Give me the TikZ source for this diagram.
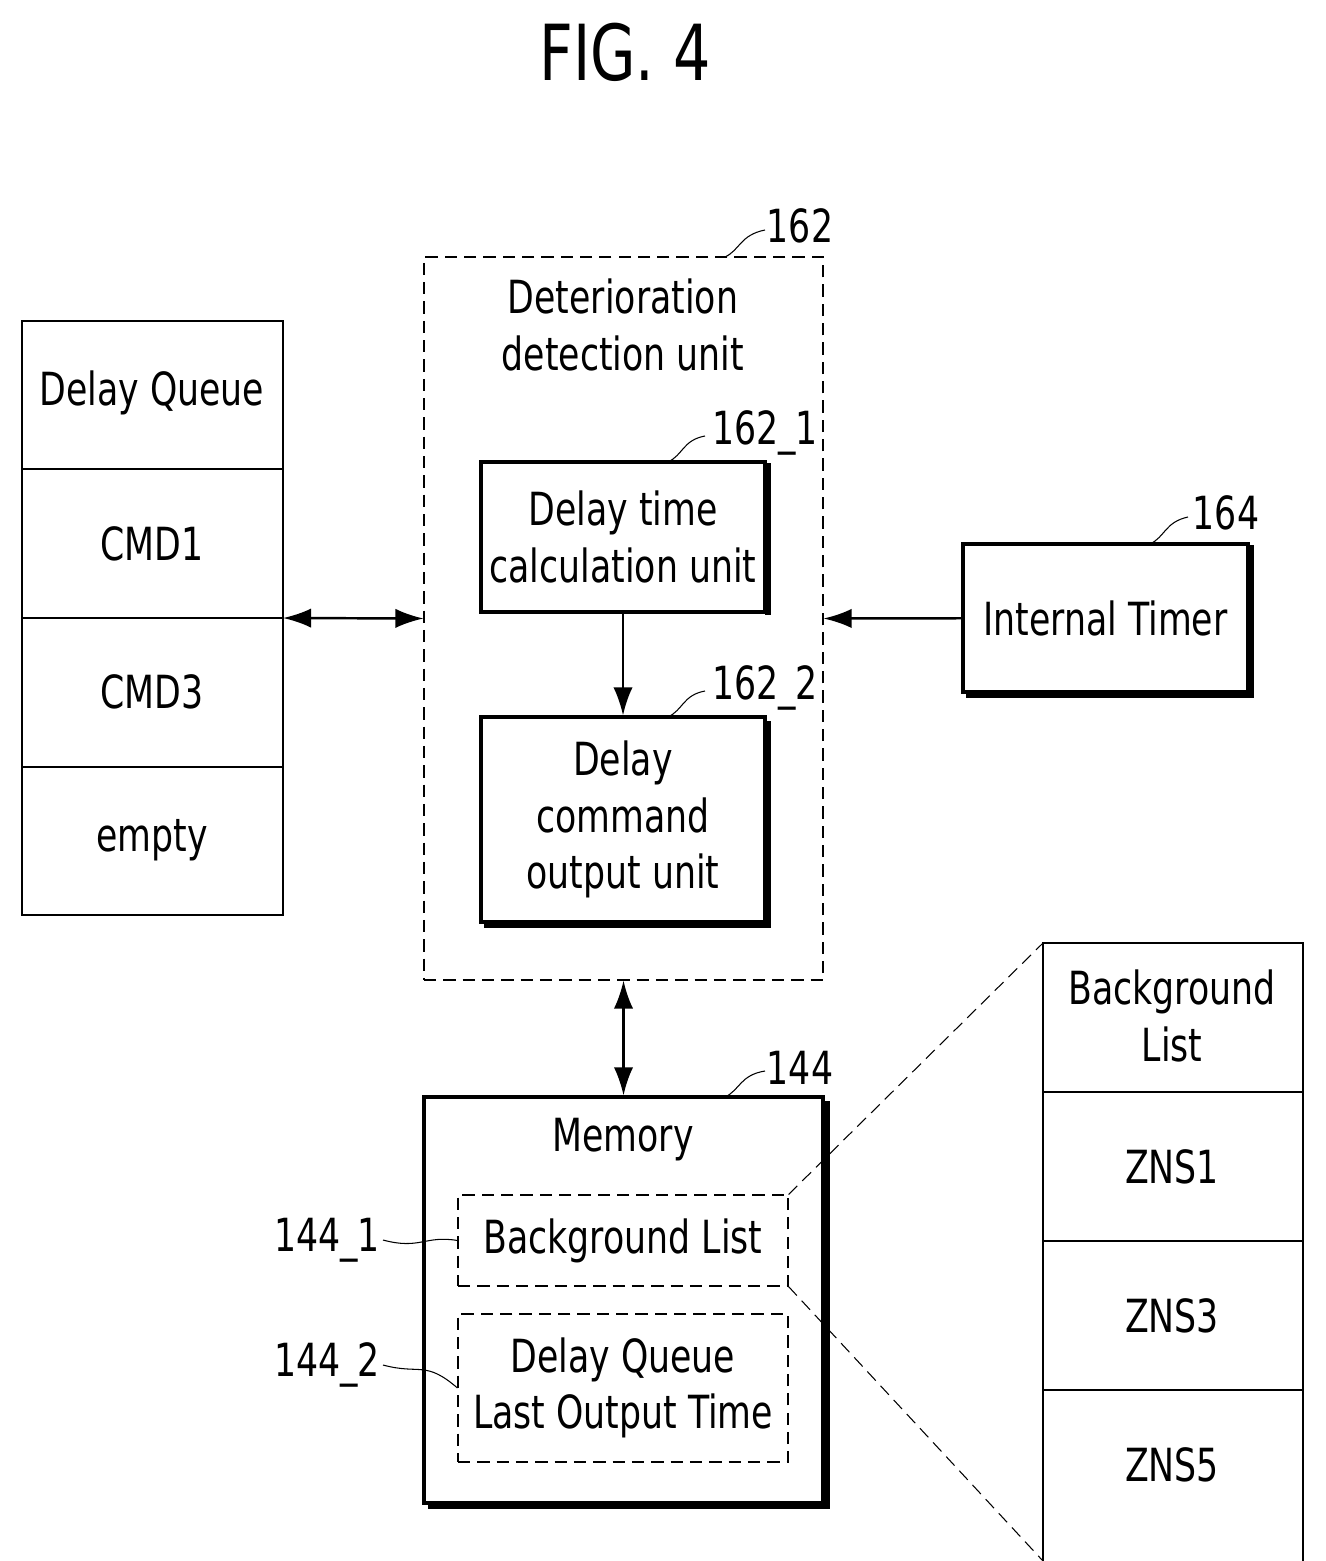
\documentclass[tikz,border=0pt]{standalone}
\usepackage{fontspec}
\setmainfont{DejaVu Sans}[FakeStretch=0.76]
\usetikzlibrary{arrows.meta}
\begin{document}
\begin{tikzpicture}[x=0.02cm,y=-0.02cm,
  txt/.style={font=\fontsize{26}{32}\selectfont,align=center},
  lbl/.style={font=\fontsize{26}{32}\selectfont},
  box/.style={draw,line width=1.6pt},
  sbox/.style={draw,line width=1.8pt},
  dbox/.style={draw,dash pattern=on 7pt off 4pt,line width=0.6pt},
  arr/.style={line width=1.4pt,-{Latex[length=16pt,width=11pt]}},
  darr/.style={line width=1.4pt,{Latex[length=16pt,width=11pt]}-{Latex[length=16pt,width=11pt]}},
  lead/.style={line width=0.6pt}]
\useasboundingbox (0,0) rectangle (1325,1561);
\node[font=\fontsize{44}{50}\selectfont] (title) at (625,52) {FIG. 4};
% delay queue
\draw[box] (22,321) rectangle (283,915);
\foreach \yy in {469,618,767} \draw[line width=1.4pt] (22,\yy) -- (283,\yy);
\node[txt] (dq) at (152,393) {Delay Queue};
\node[txt] (c1) at (152,544) {CMD1};
\node[txt] (c3) at (152,692) {CMD3};
\node[txt] (em) at (152,840) {empty};
\coordinate (dqr) at (283,618);
% 162
\node[dbox,minimum width=399*0.02cm,minimum height=723*0.02cm] (u162) at (623.5,618.5) {};
\node[txt] at (623,325) {Deterioration\\detection unit};
\node[lbl] (l162) at (800,226) {162};
\draw[lead] (725,257) .. controls (740,250) and (740,235) .. (765,230);
% 162_1
\draw[line width=3pt] (484,466) -- (768,466) -- (768,615);
\node[sbox,fill=white,minimum width=284*0.02cm,minimum height=150*0.02cm,txt,inner sep=0] (b1) at (623,537) {Delay time\\calculation unit};
\node[lbl] (l1) at (765,433) {162\_1};
\draw[lead] (668,462) .. controls (683,455) and (683,440) .. (705,436);
% 162_2
\draw[line width=3pt] (768,721) -- (768,925) -- (484,925);
\node[sbox,fill=white,minimum width=284*0.02cm,minimum height=205*0.02cm,txt,inner sep=0] (b2) at (623,819.5) {Delay\\command\\output unit};
\node[lbl] (l2) at (765,688) {162\_2};
\draw[lead] (668,717) .. controls (683,710) and (683,695) .. (705,691);
\draw[arr] (b1) -- (b2);
% timer
\draw[line width=3pt] (966,548) -- (1251,548) -- (1251,695) -- (966,695);
\node[sbox,fill=white,minimum width=285*0.02cm,minimum height=148*0.02cm,txt,inner sep=0] (tm) at (1105.5,618) {Internal Timer};
\node[lbl] (l164) at (1226,513) {164};
\draw[lead] (1150,544) .. controls (1165,537) and (1165,522) .. (1188,517);
\draw[arr] (tm) -- (u162.east);
\draw[darr] (dqr) -- (u162.west);
% memory
\draw[line width=3pt] (827,1101) -- (827,1506) -- (428,1506);
\node[sbox,fill=white,minimum width=399*0.02cm,minimum height=406*0.02cm] (mem) at (623.5,1300) {};
\node[txt] at (623,1140) {Memory};
\node[lbl] (l144) at (800,1068) {144};
\draw[lead] (725,1097) .. controls (740,1090) and (740,1075) .. (765,1071);
\draw[darr] (u162.south) -- (mem.north);
\node[dbox,minimum width=330*0.02cm,minimum height=91*0.02cm,txt,inner sep=0] (bl) at (623,1240.5) {Background List};
\node[dbox,minimum width=330*0.02cm,minimum height=148*0.02cm,txt,inner sep=0] (lt) at (623,1388) {Delay Queue\\Last Output Time};
\node[lbl] (l441) at (327,1240) {144\_1};
\node[lbl] (l442) at (327,1365) {144\_2};
\draw[lead] (383,1240) .. controls (420,1250) and (425,1235) .. (bl.west);
\draw[lead] (383,1365) .. controls (420,1375) and (425,1360) .. (lt.west);
% background list
\draw[box] (1043,943) rectangle (1303,1563);
\foreach \yy in {1092,1241,1390} \draw[line width=1.4pt] (1043,\yy) -- (1303,\yy);
\node[txt] (bh) at (1172,1016) {Background\\List};
\node[txt] (z1) at (1172,1167) {ZNS1};
\node[txt] (z3) at (1172,1316) {ZNS3};
\node[txt] (z5) at (1172,1465) {ZNS5};
\draw[dbox] (bl.north east) -- (1043,943);
\draw[dbox] (bl.south east) -- (1043,1561);
\end{tikzpicture}
\end{document}
